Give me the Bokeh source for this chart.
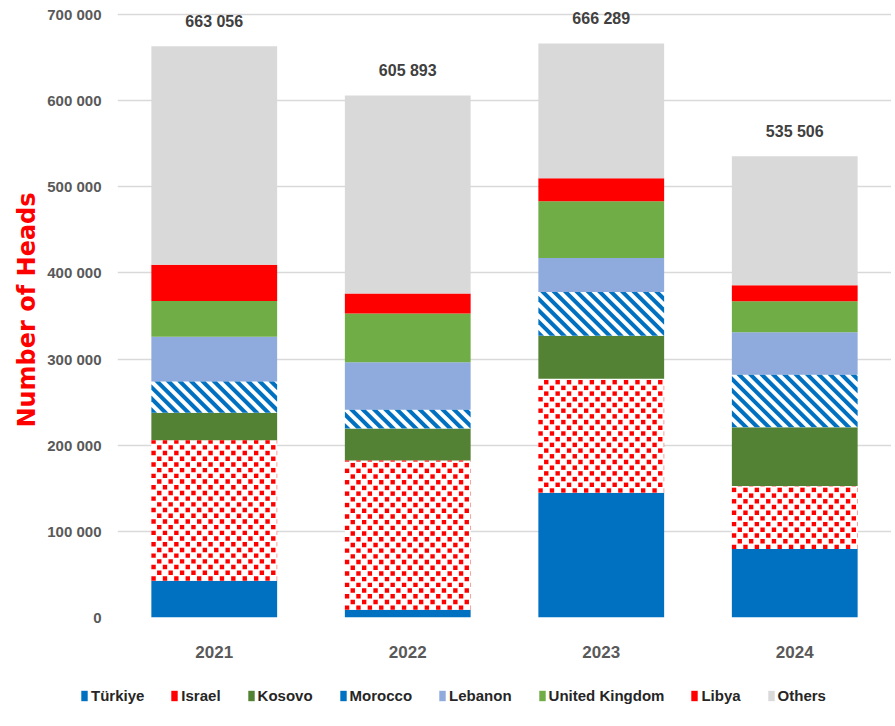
import math
from bokeh.plotting import figure
from bokeh.layouts import column
from bokeh.models import (ColumnDataSource, Range1d, FixedTicker, Legend,
                          LegendItem)
from bokeh.core.properties import value
from bokeh.transform import stack
from bokeh.embed import file_html
from bokeh.resources import INLINE

# ---- data ----
years = ["2021", "2022", "2023", "2024"]
turkiye = [42800, 8900, 144900, 79400]
israel = [163000, 173400, 132200, 73200]
kosovo = [32000, 37000, 50000, 68200]
morocco = [36200, 21900, 50900, 60900]
lebanon = [52000, 55100, 39300, 49300]
united_kingdom = [41300, 56700, 65900, 36200]
libya = [42300, 23000, 26600, 18500]
others = [253456, 229893, 156489, 149806]
totals = [663056, 605893, 666289, 535506]
total_labels = ["663 056", "605 893", "666 289", "535 506"]

series_keys = ["turkiye", "israel", "kosovo", "morocco", "lebanon",
               "united_kingdom", "libya", "others"]
series_names = ["Türkiye", "Israel", "Kosovo", "Morocco", "Lebanon",
                "United Kingdom", "Libya", "Others"]

y_ticks = [0, 100000, 200000, 300000, 400000, 500000, 600000, 700000]
y_tick_labels = ["0", "100 000", "200 000", "300 000", "400 000",
                 "500 000", "600 000", "700 000"]

# ---- styles / layout ----
fills = ["#0070c0", "white", "#548235", "white", "#8faadc",
         "#70ad47", "#ff0000", "#d9d9d9"]
legend_colors = ["#0070c0", "#ff0000", "#548235", "#0070c0", "#8faadc",
                 "#70ad47", "#ff0000", "#d9d9d9"]
FONT = "Liberation Sans"
PLOT_PX = 603          # pixels between 0 and the 700 000 gridline
TOP_PAD = 12           # extra frame room above 700 000 (for total labels)
FRAME_W, FRAME_H = 774, PLOT_PX + TOP_PAD
X0, X1 = -0.5, 3.5
Y0, Y_GRID_TOP = 0, 700000
ky = PLOT_PX / (Y_GRID_TOP - Y0)
Y1 = Y_GRID_TOP + TOP_PAD / ky
BAR_W = 0.65

xs = list(range(len(years)))
source = ColumnDataSource(dict(
    x=xs, turkiye=turkiye, israel=israel, kosovo=kosovo,
    morocco=morocco, lebanon=lebanon, united_kingdom=united_kingdom,
    libya=libya, others=others, totals=totals, total_labels=total_labels))

p = figure(frame_width=FRAME_W, frame_height=FRAME_H,
           output_backend="svg", toolbar_location=None,
           x_range=Range1d(X0, X1), y_range=Range1d(Y0, Y1),
           min_border_left=117, min_border_right=0,
           min_border_top=14 - TOP_PAD, min_border_bottom=63)
p.frame_align = False
p.outline_line_color = None
p.background_fill_color = "white"
p.border_fill_color = "white"

bars = []
for i, key in enumerate(series_keys):
    r = p.vbar(x="x", width=BAR_W,
               bottom=stack(*series_keys[:i]), top=stack(*series_keys[:i + 1]),
               source=source, fill_color=fills[i], line_color=None)
    bars.append(r)

# pixel scale in x (for the fill patterns of Israel and Morocco)
kx = FRAME_W / (X1 - X0)

# --- red checkerboard over the Israel segments ---
cell, sq = 5.7, 4.4
ql, qr, qb, qt = [], [], [], []
for i in xs:
    L, R = i - BAR_W / 2, i + BAR_W / 2
    B = turkiye[i]
    T = B + israel[i]
    ncol = math.ceil((R - L) * kx / cell)
    nrow = math.ceil((T - B) * ky / cell)
    for rr in range(nrow):
        for cc in range(ncol):
            if (rr + cc) % 2:
                continue
            l = L + cc * cell / kx
            b = B + rr * cell / ky
            if l >= R or b >= T:
                continue
            ql.append(l)
            qr.append(min(R, l + sq / kx))
            qb.append(b)
            qt.append(min(T, b + sq / ky))
checker = p.quad(left=ql, right=qr, bottom=qb, top=qt,
                 fill_color="#ff0000", line_color=None)

# --- blue diagonal stripes over the Morocco segments ---
def clip(poly, a, b, c):
    out = []
    n = len(poly)
    for k in range(n):
        p1, p2 = poly[k], poly[(k + 1) % n]
        f1 = a * p1[0] + b * p1[1] + c
        f2 = a * p2[0] + b * p2[1] + c
        if f1 >= 0:
            out.append(p1)
        if (f1 >= 0) != (f2 >= 0):
            t = f1 / (f1 - f2)
            out.append((p1[0] + t * (p2[0] - p1[0]), p1[1] + t * (p2[1] - p1[1])))
    return out

period = 11.4
sx_list, sy_list = [], []
for i in xs:
    L = i - BAR_W / 2
    B = turkiye[i] + israel[i] + kosovo[i]
    W = BAR_W * kx
    H = morocco[i] * ky
    rect = [(0, 0), (W, 0), (W, H), (0, H)]
    for k in range(-1, int((W + H) / period) + 2):
        s0, s1 = k * period, k * period + period / 2
        poly = clip(rect, 1, 1, -s0)
        if len(poly) >= 3:
            poly = clip(poly, -1, -1, s1)
        if len(poly) >= 3:
            sx_list.append([L + u / kx for u, v in poly])
            sy_list.append([B + v / ky for u, v in poly])
stripes = p.patches(xs=sx_list, ys=sy_list, fill_color="#0070c0",
                    line_color=None)

# totals above bars
p.text(x="x", y="totals", text="total_labels", source=source,
       text_align="center", text_baseline="middle", y_offset=-25,
       text_font=value(FONT), text_font_style="bold", text_font_size="16px",
       text_color="#404040")

# axes
p.yaxis.ticker = FixedTicker(ticks=y_ticks)
p.yaxis.major_label_overrides = {t: l for t, l in zip(y_ticks, y_tick_labels)}
p.yaxis.axis_line_color = None
p.yaxis.major_tick_line_color = None
p.yaxis.minor_tick_line_color = None
p.yaxis.major_label_text_font = FONT
p.yaxis.major_label_text_font_style = "bold"
p.yaxis.major_label_text_font_size = "15px"
p.yaxis.major_label_text_color = "#595959"
p.yaxis.major_label_standoff = 10
p.yaxis.axis_label = "Number of Heads"
p.yaxis.axis_label_text_font = "DejaVu Sans"
p.yaxis.axis_label_text_font_style = "bold"
p.yaxis.axis_label_text_font_size = "24px"
p.yaxis.axis_label_text_color = "#ff0000"
p.yaxis.axis_label_standoff = 3

p.xaxis.ticker = FixedTicker(ticks=xs)
p.xaxis.major_label_overrides = {x: y for x, y in zip(xs, years)}
p.xaxis.axis_line_color = None
p.xaxis.major_tick_line_color = None
p.xaxis.minor_tick_line_color = None
p.xaxis.major_label_text_font = FONT
p.xaxis.major_label_text_font_style = "bold"
p.xaxis.major_label_text_font_size = "17px"
p.xaxis.major_label_text_color = "#595959"
p.xaxis.major_label_standoff = 22

p.xgrid.grid_line_color = None
p.ygrid.grid_line_color = "#d9d9d9"
p.ygrid.grid_line_width = 1.3

# ---- legend strip under the chart ----
pl = figure(width=117 + FRAME_W, height=30, output_backend="svg",
            toolbar_location=None, x_range=Range1d(0, 1), y_range=Range1d(0, 1),
            min_border_left=0, min_border_right=0, min_border_top=0,
            min_border_bottom=0)
pl.frame_align = False
pl.axis.visible = False
pl.grid.visible = False
pl.outline_line_color = None
pl.background_fill_color = "white"
pl.border_fill_color = "white"

items = []
for name, col in zip(series_names, legend_colors):
    # zero-height bar: only its legend swatch is seen
    r = pl.vbar(x=[0], bottom=[0], top=[0], width=0.01,
                fill_color=col, line_color=None)
    items.append(LegendItem(label=name, renderers=[r]))
legend = Legend(items=items, orientation="horizontal", location=(80, 5),
                border_line_color=None, background_fill_alpha=0,
                label_text_font=FONT, label_text_font_style="bold",
                label_text_font_size="15px", label_text_color="#262626",
                glyph_width=8, glyph_height=13, label_standoff=3,
                label_height=20, spacing=26, padding=0, margin=0)
pl.add_layout(legend)

open("out.html", "w").write(file_html(column(p, pl, spacing=0), INLINE))
